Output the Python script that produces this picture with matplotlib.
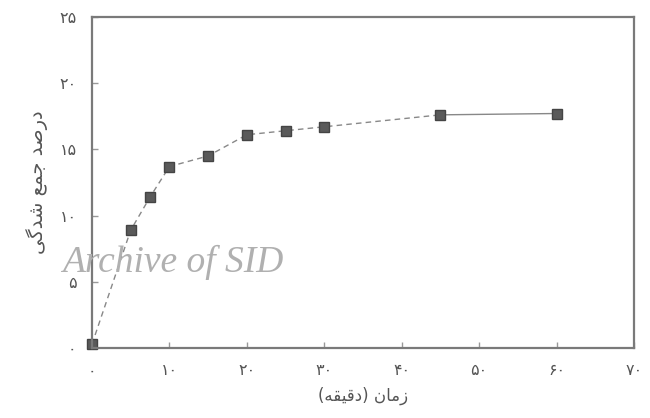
import matplotlib.pyplot as plt

# data
time_min = [0, 5, 7.5, 10, 15, 20, 25, 30, 45, 60]
shrink_pct = [0.3, 8.9, 11.4, 13.7, 14.5, 16.1, 16.4, 16.7, 17.6, 17.7]
x_ticks = [0, 10, 20, 30, 40, 50, 60, 70]
y_ticks = [0, 5, 10, 15, 20, 25]

FA_DIGITS = str.maketrans('0123456789', '۰۱۲۳۴۵۶۷۸۹')

# persian letters -> (isolated, final, initial, medial); 2 forms = no left join
FORMS = {
    'ا': '\uFE8D\uFE8E', 'د': '\uFEA9\uFEAA', 'ر': '\uFEAD\uFEAE',
    'ز': '\uFEAF\uFEB0',
    'ص': '\uFEB9\uFEBA\uFEBB\uFEBC', 'ج': '\uFE9D\uFE9E\uFE9F\uFEA0',
    'م': '\uFEE1\uFEE2\uFEE3\uFEE4', 'ع': '\uFEC9\uFECA\uFECB\uFECC',
    'ش': '\uFEB5\uFEB6\uFEB7\uFEB8', 'گ': '\uFB92\uFB93\uFB94\uFB95',
    'ی': '\uFBFC\uFBFD\uFBFE\uFBFF', 'ن': '\uFEE5\uFEE6\uFEE7\uFEE8',
    'ق': '\uFED5\uFED6\uFED7\uFED8', 'ه': '\uFEE9\uFEEA\uFEEB\uFEEC',
}


def persian(text):
    # simple shaping + right-to-left ordering for matplotlib
    out = []
    for i, ch in enumerate(text):
        if ch not in FORMS:
            out.append(ch)
            continue
        prev = text[i - 1] if i > 0 else ''
        nxt = text[i + 1] if i + 1 < len(text) else ''
        join_prev = prev in FORMS and len(FORMS[prev]) == 4
        join_next = len(FORMS[ch]) == 4 and nxt in FORMS
        f = FORMS[ch]
        if join_prev and join_next:
            out.append(f[3])
        elif join_prev:
            out.append(f[1])
        elif join_next:
            out.append(f[2])
        else:
            out.append(f[0])
    mirror = {'(': ')', ')': '('}
    return ''.join(mirror.get(c, c) for c in reversed(out))


plt.rcParams['font.family'] = ['DejaVu Sans']

fig = plt.figure(figsize=(6.5, 4.18), dpi=100)
ax = fig.add_axes([0.1415, 0.167, 0.834, 0.793])

ax.plot(time_min[:-1], shrink_pct[:-1], color='#888888', linestyle='--',
        linewidth=1, dashes=(4, 3))
ax.plot(time_min[-2:], shrink_pct[-2:], color='#888888', linewidth=1)
ax.plot(time_min, shrink_pct, linestyle='none', marker='s', markersize=7,
        markerfacecolor='#5a5a5a', markeredgecolor='#444444', clip_on=False)

ax.set_xlim(0, 70)
ax.set_ylim(0, 25)
ax.set_xticks(x_ticks)
ax.set_yticks(y_ticks)
ax.set_xticklabels([str(v).translate(FA_DIGITS) for v in x_ticks])
ax.set_yticklabels([str(v).translate(FA_DIGITS) for v in y_ticks])
ax.tick_params(direction='in', length=4, width=1, colors='#999999',
               labelcolor='#555555', labelsize=11.5, pad=11)

for s in ax.spines.values():
    s.set_color('#7a7a7a')
    s.set_linewidth(1.6)

ax.set_xlabel(persian('زمان (دقیقه)'), fontsize=12, color='#555555', labelpad=6)
ax.set_ylabel(persian('درصد جمع شدگی'), fontsize=14, color='#555555', labelpad=8)

# scan watermark
fig.text(62 / 650, 1 - 272 / 418, 'Archive of SID', family='Liberation Serif',
         style='italic', fontsize=27, color='#b0b0b0', va='baseline')

fig.savefig('out.png', dpi=100)
